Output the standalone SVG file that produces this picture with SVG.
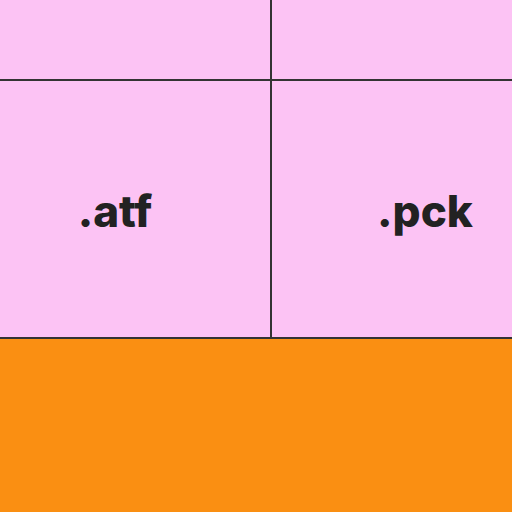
<svg xmlns="http://www.w3.org/2000/svg" width="512" height="512" viewBox="0 0 512 512">
<style>
.cell{fill:#fcc3f4}
.ln{stroke:#333333;stroke-width:2;fill:none}
.lbl{font-family:Inter,"Noto Sans",sans-serif;font-weight:800;font-size:44px;fill:#222222;text-anchor:middle}
</style>
<rect x="0" y="0" width="512" height="512" fill="#fcc3f4"/>
<rect id="orange" x="0" y="338" width="512" height="174" fill="#fa8f12"/>
<g id="node-atf"><text class="lbl" x="115" y="227">.atf</text></g>
<g id="node-pck"><text class="lbl" x="425" y="227">.pck</text></g>
<g id="connectors">
<line class="ln" x1="0" y1="80" x2="512" y2="80"/>
<line class="ln" x1="271" y1="0" x2="271" y2="338"/>
<line class="ln" x1="0" y1="338" x2="512" y2="338"/>
</g>
</svg>
